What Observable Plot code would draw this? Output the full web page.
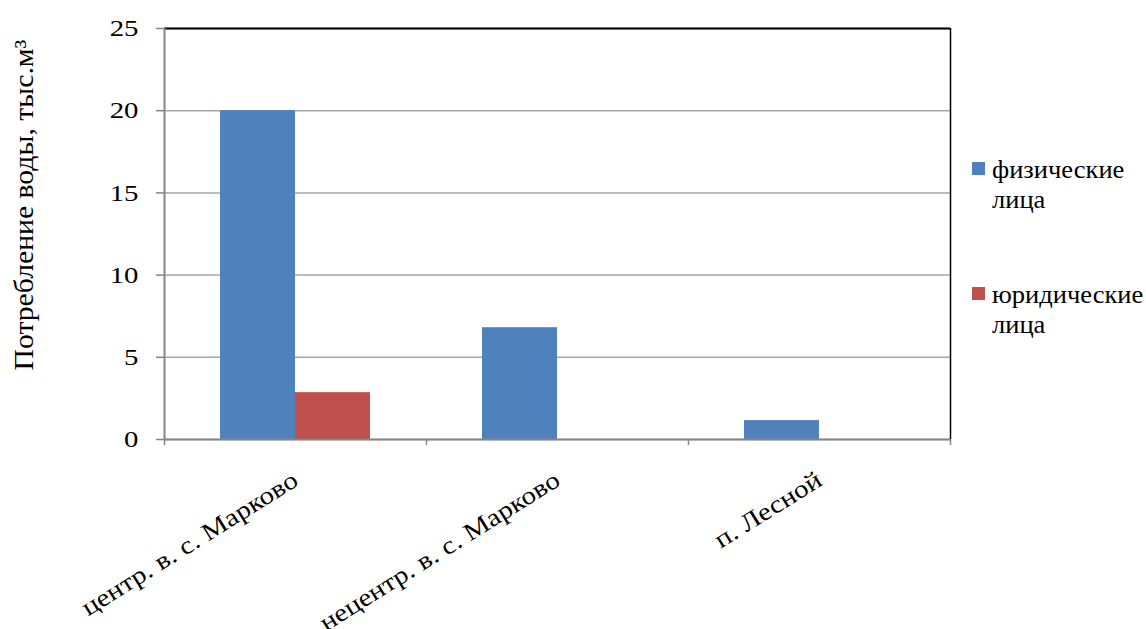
<!DOCTYPE html>
<html>
<head>
<meta charset="utf-8">
<script src="https://cdn.jsdelivr.net/npm/d3@7"></script>
<script src="https://cdn.jsdelivr.net/npm/@observablehq/plot@0.6"></script>
<style>
  body { margin: 0; background: #fff; }
  #chart { position: relative; width: 1146px; height: 629px; font-family: 'Liberation Serif', serif; color: #000; }
  #chart svg { position: absolute; left: 0; top: 0; }
  .ytitle { position: absolute; left: 24px; top: 205px; transform: translate(-50%, -50%) rotate(-90deg) scaleX(1.1); white-space: nowrap; font-size: 27px; line-height: 30px; }
  .legend-item { position: absolute; left: 972px; display: flex; align-items: flex-start; font-size: 25px; line-height: 30px; }
  .legend-item .swatch { width: 13px; height: 13px; margin-top: 7px; margin-right: 7px; flex: none; }
  .legend-item .name { width: 140px; transform: scaleX(1.06); transform-origin: left top; }
</style>
</head>
<body>
<div id="chart"></div>
<script>
// Water consumption by settlement, thousand m³
const categories = ["центр. в. с. Марково", "нецентр. в. с. Марково", "п. Лесной"];
const seriesNames = ["физические лица", "юридические лица"];
const individuals = [20, 6.8, 1.15];
const legalEntities = [2.85, 0, 0];
const yTicks = [0, 5, 10, 15, 20, 25];
const colors = ["#4F81BD", "#C0504D"];
const yTitle = "Потребление воды, тыс.м³";

const rows = categories.flatMap((c, i) => [
  {category: c, series: seriesNames[0], value: individuals[i]},
  {category: c, series: seriesNames[1], value: legalEntities[i]}
]);

const W = 1146, H = 629;
const mL = 164, mR = 196, mT = 28, mB = 190;
const step = (W - mL - mR) / categories.length;
const barW = 75;
const gap = (step - 2 * barW) / 2;
const serif = "'Liberation Serif', serif";

const chart = Plot.plot({
  width: W,
  height: H,
  marginLeft: mL,
  marginRight: mR,
  marginTop: mT,
  marginBottom: mB,
  style: {fontFamily: serif, fontSize: "24px", color: "#000", background: "transparent"},
  x: {domain: categories, padding: 0, axis: null, label: null},
  y: {domain: [0, 25], axis: null, label: null},
  marks: [
    Plot.gridY(yTicks, {stroke: "#a6a6a6", strokeOpacity: 1, strokeWidth: 1.5}),
    Plot.barY(rows.filter(d => d.series === seriesNames[0]), {
      x: "category", y: "value", fill: colors[0],
      insetLeft: gap, insetRight: step - gap - barW
    }),
    Plot.barY(rows.filter(d => d.series === seriesNames[1]), {
      x: "category", y: "value", fill: colors[1],
      insetLeft: gap + barW, insetRight: gap
    }),
    // plot-area border: black top/right, grey axes left/bottom
    Plot.ruleY([25], {stroke: "#000", strokeWidth: 2}),
    Plot.ruleX([categories[categories.length - 1]], {dx: step / 2, stroke: "#000", strokeWidth: 1.5}),
    Plot.ruleX([categories[0]], {dx: -step / 2, stroke: "#868686", strokeWidth: 2}),
    Plot.ruleY([0], {stroke: "#868686", strokeWidth: 2}),
    Plot.axisY(yTicks, {tickSize: 8, tickPadding: 18, stroke: "#868686", strokeWidth: 1.5, fontSize: 24, fontFamily: serif, tickFormat: d => d, label: null}),
    // category boundary ticks
    Plot.axisX(categories, {tickSize: 6, tickFormat: () => "", dx: -step / 2, stroke: "#868686", strokeWidth: 1.5, label: null}),
    Plot.axisX([categories[categories.length - 1]], {tickSize: 6, tickFormat: () => "", dx: step / 2, stroke: "#868686", strokeWidth: 1.5, label: null}),
    // rotated category labels
    Plot.axisX(categories, {tickSize: 0, tickPadding: 38, tickRotate: -32, fontSize: 25, fontFamily: serif, label: null})
  ]
});

// widen the tick-label glyphs along their own baseline (anchored at the text end)
const widen = (selector, k) => chart.querySelectorAll(selector).forEach(t => {
  const tr = t.getAttribute("transform") || "";
  t.setAttribute("transform", `${tr} scale(${k},1)`);
});
widen('g[aria-label="y-axis tick label"] text', 1.2);
widen('g[aria-label="x-axis tick label"] text', 1.16);

const root = document.getElementById("chart");
root.appendChild(chart);

const title = document.createElement("div");
title.className = "ytitle";
title.textContent = yTitle;
root.appendChild(title);

seriesNames.forEach((name, i) => {
  const item = document.createElement("div");
  item.className = "legend-item";
  item.style.top = `${155 + i * 125}px`;
  const sw = document.createElement("span");
  sw.className = "swatch";
  sw.style.background = colors[i];
  const label = document.createElement("span");
  label.className = "name";
  label.textContent = name;
  item.append(sw, label);
  root.appendChild(item);
});
</script>
</body>
</html>
